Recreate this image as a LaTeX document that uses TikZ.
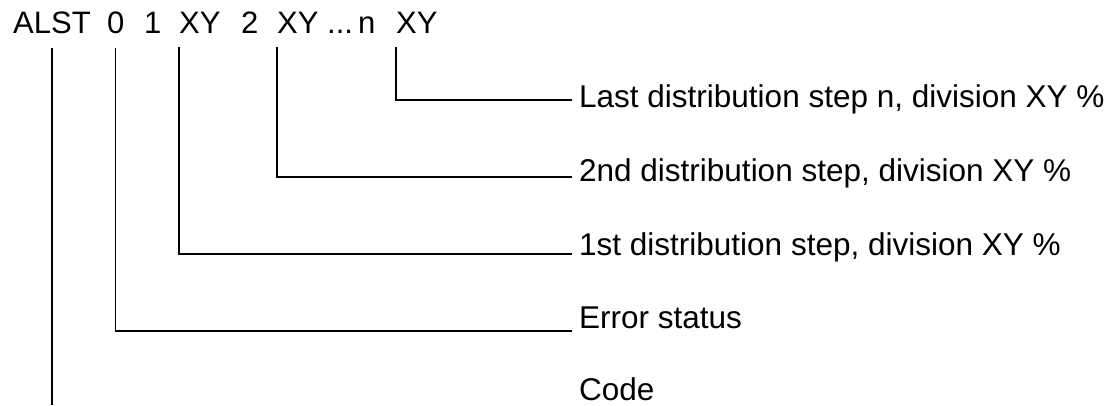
\documentclass[tikz,border=0pt]{standalone}
\usepackage{fontspec}
\setmainfont{Liberation Sans}
\usepackage{xcolor}
\usepackage{tikz}
\usetikzlibrary{positioning, calc}
\definecolor{ALSTInk}{RGB}{0, 0, 0}

\tikzset{
  tok/.style={inner sep=0pt, anchor=base west, text=ALSTInk,
              font=\fontsize{31}{36}\selectfont},
  lbl/.style={inner sep=0pt, anchor=base west, text=ALSTInk,
              font=\fontsize{31.5}{36}\selectfont},
  wire/.style={draw=ALSTInk, line width=1.2pt}
}

\begin{document}
\begin{tikzpicture}[x=1pt, y=-1pt]
    \useasboundingbox (0,0) rectangle (1114,405);

    % telegram string
    \node[tok] (alst) at (13,33) {ALST};
    \node[tok] (err)  at (107,33) {0};
    \node[tok] (one)  at (144,33) {1};
    \node[tok] (xya)  at (179,33) {XY};
    \node[tok] (two)  at (241,33) {2};
    \node[tok] (xyb)  at (277,33) {XY};
    \node[tok] (dots) at (327,33) {...};
    \node[tok] (nn)   at (358,33) {n};
    \node[tok] (xyn)  at (396,33) {XY};

    % explanations
    \node[lbl] (lastlbl) at (579,107) {Last distribution step n, division XY \%};
    \node[lbl] (sndlbl)  at (579,181) {2nd distribution step, division XY \%};
    \node[lbl] (fstlbl)  at (579,255) {1st distribution step, division XY \%};
    \node[lbl] (errlbl)  at (579,328) {Error status};
    \node[lbl] (codelbl) at (579,400) {Code};

    % elbow ends
    \coordinate (elast) at (572,100);
    \coordinate (esnd)  at (572,177);
    \coordinate (efst)  at (572,254);
    \coordinate (eerr)  at (572,331);
    \coordinate (ecode) at (0,405);

    \draw[wire] ([yshift=-14pt]xyn.south west) |- (elast);
    \draw[wire] ([yshift=-14pt]xyb.south west) |- (esnd);
    \draw[wire] ([yshift=-14pt]xya.south west) |- (efst);
    \draw[wire] ([yshift=-14pt]err.south) |- (eerr);
    \draw[wire] ([yshift=-14pt]alst.south) -- (alst.south |- ecode);
\end{tikzpicture}
\end{document}
